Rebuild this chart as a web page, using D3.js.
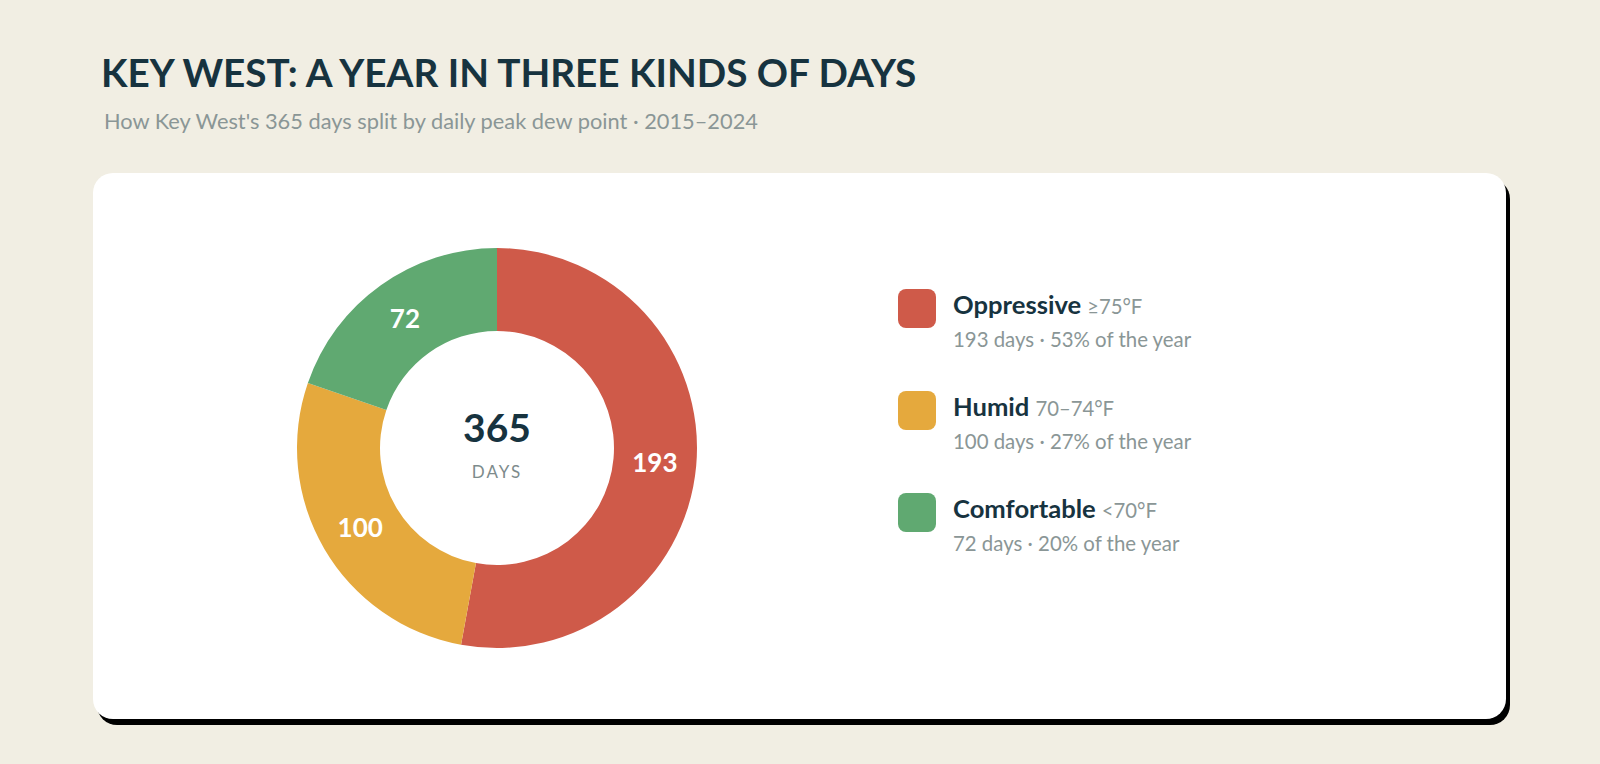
<!DOCTYPE html>
<html>
<head>
<meta charset="utf-8">
<script src="https://cdn.jsdelivr.net/npm/d3@7"></script>
<style>
  html, body { margin: 0; padding: 0; background: #f1eee3; }
  svg { display: block; font-family: Lato, "Noto Sans", sans-serif; }
</style>
</head>
<body>
<div id="chart"></div>
<script>
// data
var categories = ['Oppressive', 'Humid', 'Comfortable'];
var ranges = ['\u226575\u00b0F', '70\u201374\u00b0F', '<70\u00b0F'];
var days = [193, 100, 72];
var colors = ['#cf5a49', '#e5a93d', '#60a971'];

var W = 1600, H = 764;
var total = d3.sum(days);

var svg = d3.select('#chart').append('svg')
    .attr('width', W)
    .attr('height', H);

svg.append('rect').attr('width', W).attr('height', H).attr('fill', '#f1eee3');

// title
svg.append('text')
    .attr('x', 101).attr('y', 87)
    .attr('fill', '#17333f')
    .style('font-size', '38.7px').style('font-weight', 700)
    .text('KEY WEST: A YEAR IN THREE KINDS OF DAYS');

svg.append('text')
    .attr('x', 104).attr('y', 129)
    .attr('fill', '#8a9696')
    .style('font-size', '21.8px')
    .text("How Key West's 365 days split by daily peak dew point \u00b7 2015\u20132024");

// card + hard shadow
var card = {x: 93, y: 173, w: 1413, h: 546, r: 20};
svg.append('rect')
    .attr('x', card.x + 4).attr('y', card.y + 6)
    .attr('width', card.w).attr('height', card.h)
    .attr('rx', card.r).attr('fill', '#000');
svg.append('rect')
    .attr('x', card.x).attr('y', card.y)
    .attr('width', card.w).attr('height', card.h)
    .attr('rx', card.r).attr('fill', '#fff');

// donut
var cx = 497, cy = 448, outerR = 200, innerR = 117;
var pie = d3.pie().sort(null).value(function(d){ return d; });
var arc = d3.arc().innerRadius(innerR).outerRadius(outerR);
var labelArc = d3.arc().innerRadius((innerR + outerR) / 2).outerRadius((innerR + outerR) / 2);

var g = svg.append('g').attr('transform', 'translate(' + cx + ',' + cy + ')');
var arcs = pie(days);

g.selectAll('path').data(arcs).enter().append('path')
    .attr('d', arc)
    .attr('fill', function(d, i){ return colors[i]; });

g.selectAll('text.val').data(arcs).enter().append('text')
    .attr('class', 'val')
    .attr('transform', function(d){ return 'translate(' + labelArc.centroid(d) + ')'; })
    .attr('text-anchor', 'middle')
    .attr('dy', '0.36em')
    .attr('fill', '#fff')
    .style('font-size', '26px').style('font-weight', 700)
    .text(function(d){ return d.value; });

g.append('text')
    .attr('y', -6)
    .attr('text-anchor', 'middle')
    .attr('fill', '#17333f')
    .style('font-size', '39px').style('font-weight', 700)
    .text(total);

g.append('text')
    .attr('y', 30)
    .attr('text-anchor', 'middle')
    .attr('fill', '#7d8b8c')
    .style('font-size', '17px')
    .style('letter-spacing', '2px')
    .text('DAYS');

// legend
var legend = svg.append('g').attr('transform', 'translate(898,289)');
var item = legend.selectAll('g').data(categories).enter().append('g')
    .attr('transform', function(d, i){ return 'translate(0,' + (i * 102) + ')'; });

item.append('rect')
    .attr('width', 38).attr('height', 39).attr('rx', 8)
    .attr('fill', function(d, i){ return colors[i]; });

var head = item.append('text')
    .attr('x', 55).attr('y', 25);
head.append('tspan')
    .attr('fill', '#17333f')
    .style('font-size', '25.6px').style('font-weight', 700)
    .text(function(d){ return d; });
head.append('tspan')
    .attr('dx', 6)
    .attr('fill', '#8a9696')
    .style('font-size', '20.3px')
    .text(function(d, i){ return ranges[i]; });

item.append('text')
    .attr('x', 55).attr('y', 58)
    .attr('fill', '#8a9696')
    .style('font-size', '20.4px')
    .text(function(d, i){
        return days[i] + ' days \u00b7 ' + Math.round(days[i] / total * 100) + '% of the year';
    });
</script>
</body>
</html>
